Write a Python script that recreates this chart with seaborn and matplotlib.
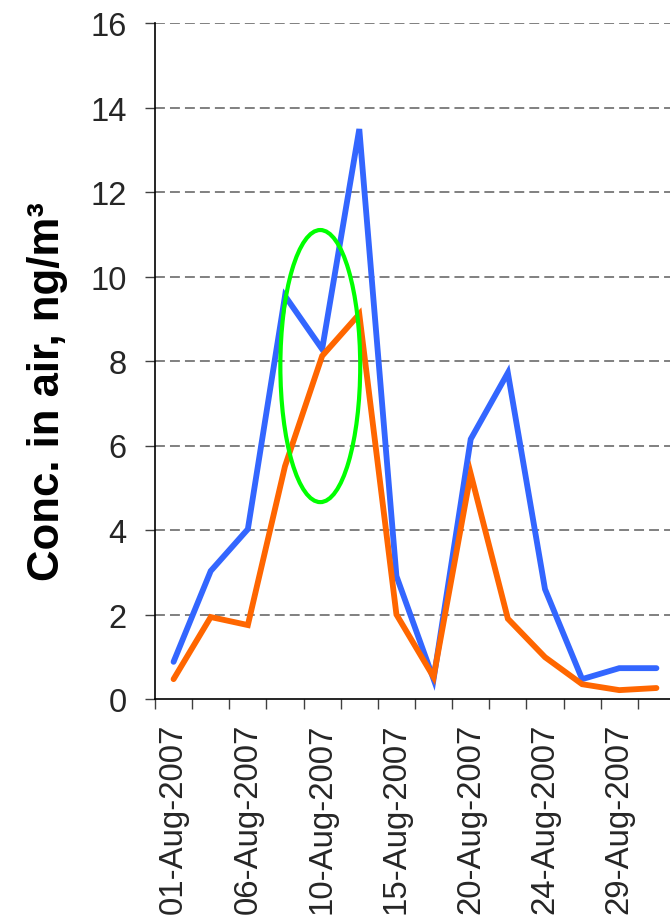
import matplotlib
matplotlib.use("Agg")
import matplotlib.pyplot as plt
from matplotlib import font_manager
from matplotlib.patches import Ellipse
import seaborn as sns
import pandas as pd
import numpy as np

# ---- data ----
sample_index = list(range(14))
tick_labels = ["01-Aug-2007", "06-Aug-2007", "10-Aug-2007", "15-Aug-2007",
               "20-Aug-2007", "24-Aug-2007", "29-Aug-2007"]
blue_values = [0.88, 3.03, 4.02, 9.54, 8.28, 13.49, 2.91, 0.47, 6.15, 7.72, 2.60, 0.47, 0.73, 0.73]
orange_values = [0.47, 1.94, 1.75, 5.51, 8.12, 9.11, 2.00, 0.52, 5.33, 1.90, 0.99, 0.35, 0.21, 0.26]
series_names = ["blue", "orange"]
series_colors = {"blue": "#3366FF", "orange": "#FF6600"}

# highlight ellipse (annotation)
ellipse_center = (3.95, 7.88)
ellipse_width = 2.15
ellipse_height = 6.44

df = pd.DataFrame({
    "idx": sample_index * 2,
    "conc": blue_values + orange_values,
    "series": [series_names[0]] * 14 + [series_names[1]] * 14,
})


def pick_font(bold):
    for f in font_manager.fontManager.ttflist:
        fn = f.fname.lower()
        if "liberationsans" in fn.replace("-", "").replace("_", "") and "narrow" not in fn:
            isbold = "bold" in fn
            isital = "italic" in fn
            if isbold == bold and not isital:
                return font_manager.FontProperties(fname=f.fname)
    return font_manager.FontProperties(family="DejaVu Sans",
                                       weight="bold" if bold else "normal")


fp_reg = pick_font(False)
fp_bold = pick_font(True)

sns.set_theme(style="white")
plt.rcParams["font.family"] = ["Liberation Sans", "DejaVu Sans"]

fig = plt.figure(figsize=(6.7, 9.2), dpi=100)
ax = fig.add_axes([155 / 670, 1 - 700 / 920, 520 / 670, 676 / 920])

for yv in range(2, 17, 2):
    ax.axhline(yv, color="#808080", lw=1.4, linestyle=(0, (5.1, 2.6)), zorder=0)

sns.lineplot(data=df, x="idx", y="conc", hue="series", palette=series_colors,
             hue_order=series_names, lw=4.2, legend=False, ax=ax, sort=False,
             solid_capstyle="round", solid_joinstyle="miter")

ax.add_patch(Ellipse(ellipse_center, ellipse_width, ellipse_height,
                     fill=False, edgecolor="#00FF00", lw=3.0, zorder=3))

ax.set_xlim(-0.5, 13.5)
ax.set_ylim(0, 16)

# y axis
ax.set_yticks(range(0, 17, 2))
ax.set_yticklabels([str(v) for v in range(0, 17, 2)])
ax.tick_params(axis="y", which="major", direction="out", length=7.5, width=1,
               color="#404040", pad=13, left=True)
for lab in ax.get_yticklabels():
    lab.set_fontproperties(fp_reg)
    lab.set_fontsize(23.5)

# x axis: labels at every other category centre, ticks at boundaries
ax.set_xticks(sample_index[::2])
ax.set_xticklabels(tick_labels, rotation=90)
ax.tick_params(axis="x", which="major", length=0, pad=17)
ax.set_xticks(np.arange(-0.5, 13.6, 1.0), minor=True)
ax.tick_params(axis="x", which="minor", direction="out", length=7.5, width=1,
               color="#404040", bottom=True)
for lab in ax.get_xticklabels():
    lab.set_fontproperties(fp_reg)
    lab.set_fontsize(23.8)
    lab.set_verticalalignment("top")

for side in ["top", "right"]:
    ax.spines[side].set_visible(False)
for side in ["left", "bottom"]:
    ax.spines[side].set_visible(True)
    ax.spines[side].set_color("black")
    ax.spines[side].set_linewidth(1.2)

ax.set_xlabel("")
ax.set_ylabel("Conc. in air, ng/m³", color="black")
ax.yaxis.label.set_fontproperties(fp_bold)
ax.yaxis.label.set_fontsize(31.5)
ax.yaxis.set_label_coords(-0.168, 0.457)

fig.savefig("out.png", dpi=100)
